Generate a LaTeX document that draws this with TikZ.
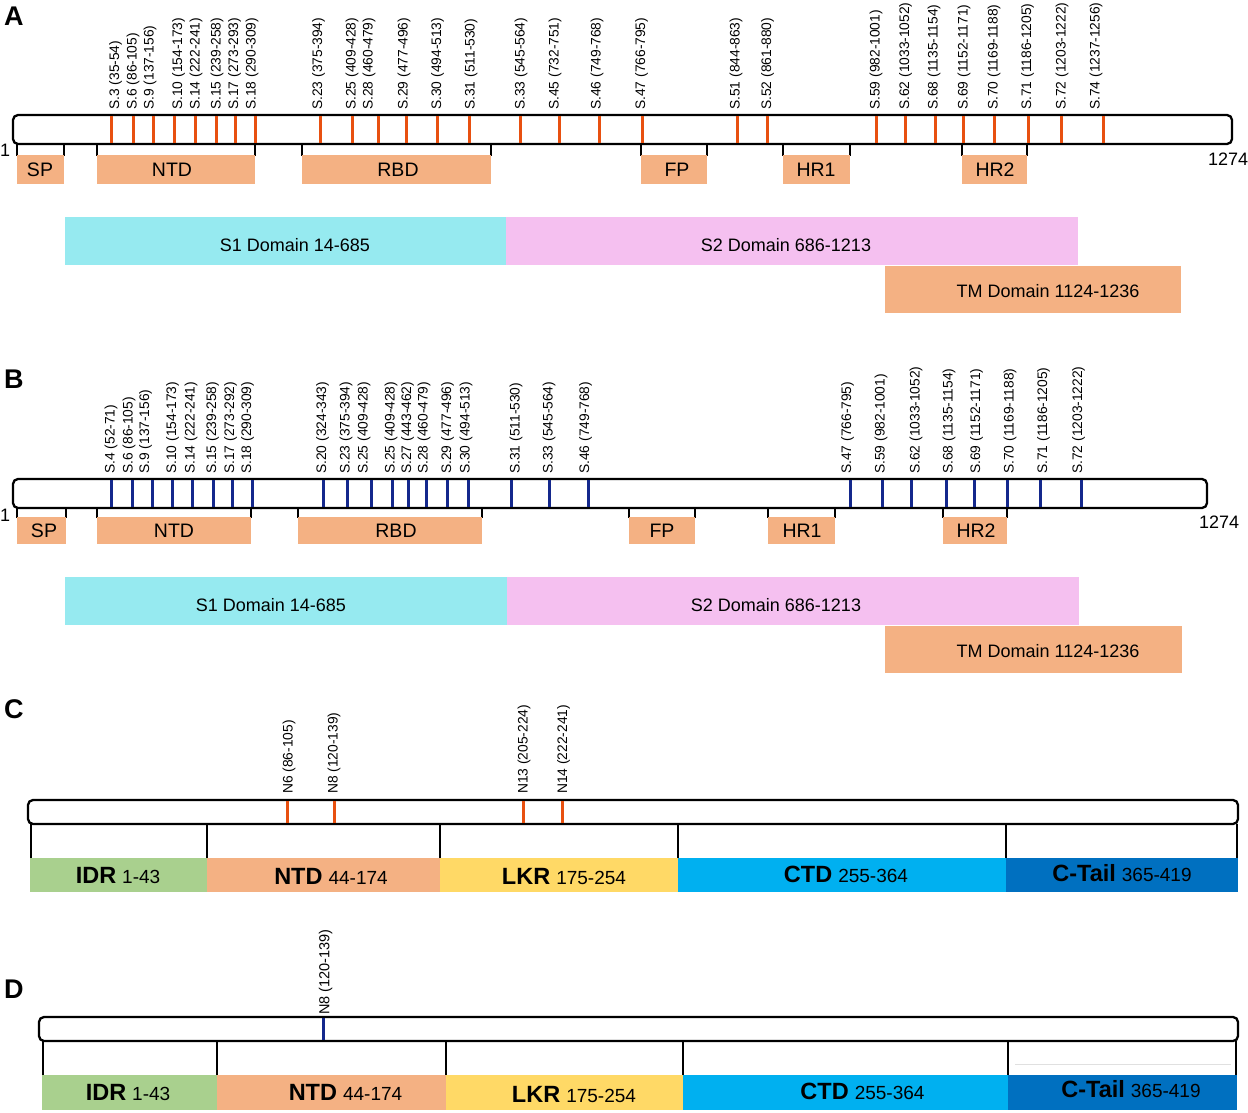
\documentclass[tikz,border=0pt]{standalone}
\usepackage{fontspec}
\setmainfont{Liberation Sans}
\definecolor{peach}{RGB}{244,177,131}
\definecolor{sone}{RGB}{150,234,240}
\definecolor{stwo}{RGB}{245,192,240}
\definecolor{tickor}{RGB}{232,80,16}
\definecolor{tickbl}{RGB}{20,40,140}
\definecolor{idrc}{RGB}{169,208,142}
\definecolor{lkrc}{RGB}{255,217,102}
\definecolor{ctdc}{RGB}{0,176,240}
\definecolor{ctailc}{RGB}{0,112,192}
\newcommand\domb[1]{{\bfseries\fontsize{23.5}{23.5}\selectfont #1}}
\newcommand\domn[1]{{\fontsize{19}{19}\selectfont #1}}
\tikzset{
  bar/.style={draw=black, line width=2.3pt, rounded corners=5pt, fill=white},
  orangetick/.style={draw=tickor, line width=3pt},
  bluetick/.style={draw=tickbl, line width=3pt},
  domtick/.style={draw=black, line width=2.3pt},
  sitelbl/.style={rotate=90, anchor=west, inner sep=0pt, font=\fontsize{13.8}{13.8}\selectfont},
  boxtxt/.style={anchor=base, inner sep=0pt, font=\fontsize{19.5}{19.5}\selectfont},
  bigtxt/.style={anchor=base, inner sep=0pt, font=\fontsize{18}{18}\selectfont},
  endtxt/.style={anchor=base west, inner sep=0pt, font=\fontsize{18}{18}\selectfont},
  cdtxt/.style={anchor=base, inner sep=0pt},
  panel/.style={anchor=base west, inner sep=0pt, font=\bfseries\fontsize{27}{27}\selectfont},
}
\begin{document}
\begin{tikzpicture}[x=1pt,y=-1pt]
\useasboundingbox (0,0) rectangle (1248,1113);

% ================= Panel A =================
\node[panel] (pA) at (4,26) {A};
\draw[bar] (13,115) rectangle (1232,144);
\foreach \tx/\lx/\t [count=\i] in {111/115.5/S.3 (35-54), 133/133/S.6 (86-105), 153/150/S.9 (137-156),
  174/178.5/S.10 (154-173), 195/196/S.14 (222-241), 216/217/S.15 (239-258), 235/234.5/S.17 (273-293),
  255/252/S.18 (290-309), 320/318.5/S.23 (375-394), 352/352/S.25 (409-428), 378/369/S.28 (460-479),
  406/404/S.29 (477-496), 437/437.5/S.30 (494-513), 469/471/S.31 (511-530), 520/521/S.33 (545-564),
  559/555/S.45 (732-751), 599/597/S.46 (749-768), 642/641.5/S.47 (766-795), 737/736/S.51 (844-863),
  767/767.5/S.52 (861-880), 876/876/S.59 (982-1001), 905/905.5/S.62 (1033-1052), 935/934/S.68 (1135-1154),
  963/964/S.69 (1152-1171), 994/994/S.70 (1169-1188), 1028/1027.5/S.71 (1186-1205),
  1061/1062/S.72 (1203-1222), 1103/1096/S.74 (1237-1256)} {
  \draw[orangetick] (\tx,116) -- (\tx,143);
  \node[sitelbl] (la\i) at (\lx,110) {\t};
}
\foreach \a/\b/\cx/\t in {17/64/40/SP, 97/255/172/NTD, 302/491/398/RBD, 641/707/677/FP, 783/850/816/HR1, 962/1027/995/HR2} {
  \draw[domtick] (\a,144) -- (\a,156);
  \draw[domtick] (\b,144) -- (\b,156);
  \fill[peach] (\a,155) rectangle (\b,184);
  \node[boxtxt] (dA\t) at (\cx,176.5) {\t};
}
\node[endtxt] (oneA) at (0,157) {1};
\node[endtxt] (endA) at (1208,165) {1274};
\fill[sone] (65,217) rectangle (506,265);
\fill[stwo] (506,217) rectangle (1078,265);
\fill[peach] (885,266) rectangle (1181,313);
\node[bigtxt] (s1A) at (295,251.5) {S1 Domain 14-685};
\node[bigtxt] (s2A) at (786,251.5) {S2 Domain 686-1213};
\node[bigtxt] (tmA) at (1048,297.5) {TM Domain 1124-1236};

% ================= Panel B =================
\node[panel] (pB) at (4,388) {B};
\draw[bar] (13,479) rectangle (1207,508);
\foreach \tx/\lx/\t [count=\i] in {111/111/S.4 (52-71), 132/129/S.6 (86-105), 152/145.5/S.9 (137-156),
  172/172.5/S.10 (154-173), 192/191/S.14 (222-241), 213/212.5/S.15 (239-258), 232/230.5/S.17 (273-292),
  252/247.5/S.18 (290-309), 323/322.5/S.20 (324-343), 347/346/S.23 (375-394), 371/364/S.25 (409-428),
  392/391/S.25 (409-428), 408/407.5/S.27 (443-462), 426/424/S.28 (460-479), 447/447.5/S.29 (477-496),
  468/466/S.30 (494-513), 511/516/S.31 (511-530), 549/549/S.33 (545-564), 588/585.5/S.46 (749-768),
  850/847.5/S.47 (766-795), 882/881/S.59 (982-1001), 911/916/S.62 (1033-1052), 946/949/S.68 (1135-1154),
  974/976.5/S.69 (1152-1171), 1007/1010/S.70 (1169-1188), 1040/1043.5/S.71 (1186-1205),
  1081/1078.5/S.72 (1203-1222)} {
  \draw[bluetick] (\tx,480) -- (\tx,507);
  \node[sitelbl] (lb\i) at (\lx,474) {\t};
}
\foreach \a/\b/\cx/\t in {17/66/44/SP, 97/251/174/NTD, 298/482/396/RBD, 629/695/662/FP, 768/835/802/HR1, 943/1007/976/HR2} {
  \draw[domtick] (\a,508) -- (\a,518);
  \draw[domtick] (\b,508) -- (\b,518);
  \fill[peach] (\a,517) rectangle (\b,544);
  \node[boxtxt] (dB\t) at (\cx,537) {\t};
}
\node[endtxt] (oneB) at (0,521) {1};
\node[endtxt] (endB) at (1199,528) {1274};
\fill[sone] (65,577) rectangle (507,625);
\fill[stwo] (507,577) rectangle (1079,625);
\fill[peach] (885,626) rectangle (1182,673);
\node[bigtxt] (s1B) at (271,611.5) {S1 Domain 14-685};
\node[bigtxt] (s2B) at (776,611.5) {S2 Domain 686-1213};
\node[bigtxt] (tmB) at (1048,657.5) {TM Domain 1124-1236};

% ================= Panel C =================
\node[panel] (pC) at (4,718) {C};
\draw[bar] (28,800) rectangle (1238,824);
\foreach \tx/\lx/\t [count=\i] in {287/289/N6 (86-105), 334/334/N8 (120-139), 523/524/N13 (205-224), 562/563.5/N14 (222-241)} {
  \draw[orangetick] (\tx,801) -- (\tx,823);
  \node[sitelbl] (lc\i) at (\lx,794) {\t};
}
\foreach \x in {31,207,440,678,1006,1237} {
  \draw[domtick, line width=2.6pt] (\x,824) -- (\x,859);
}
\fill[idrc] (30,858) rectangle (207,892);
\fill[peach] (207,858) rectangle (440,892);
\fill[lkrc] (440,858) rectangle (678,892);
\fill[ctdc] (678,858) rectangle (1006,892);
\fill[ctailc] (1006,858) rectangle (1238,892);
\node[cdtxt] (cIDR) at (118,883) {\domb{IDR}\hspace{6pt}\domn{1-43}};
\node[cdtxt] (cNTD) at (331,884) {\domb{NTD}\hspace{6pt}\domn{44-174}};
\node[cdtxt] (cLKR) at (564,884) {\domb{LKR}\hspace{6pt}\domn{175-254}};
\node[cdtxt] (cCTD) at (846,882) {\domb{CTD}\hspace{6pt}\domn{255-364}};
\node[cdtxt] (cCT) at (1122,881) {\domb{C-Tail}\hspace{6pt}\domn{365-419}};

% ================= Panel D =================
\node[panel] (pD) at (4,998) {D};
\draw[bar] (39,1017) rectangle (1238,1041);
\draw[bluetick] (323,1018) -- (323,1040);
\node[sitelbl, font=\fontsize{14.5}{14.5}\selectfont] (ld1) at (325.5,1015) {N8 (120-139)};
\foreach \x in {43,217,446,683,1008,1236} {
  \draw[domtick, line width=2.6pt] (\x,1041) -- (\x,1076);
}
\draw[black!12, line width=1pt] (1015,1064) -- (1231,1064);
\fill[idrc] (42,1075) rectangle (217,1110);
\fill[peach] (217,1075) rectangle (446,1110);
\fill[lkrc] (446,1075) rectangle (683,1110);
\fill[ctdc] (683,1075) rectangle (1008,1110);
\fill[ctailc] (1008,1075) rectangle (1237,1110);
\node[cdtxt] (dIDR) at (128,1100) {\domb{IDR}\hspace{6pt}\domn{1-43}};
\node[cdtxt] (dNTD) at (345.5,1100) {\domb{NTD}\hspace{6pt}\domn{44-174}};
\node[cdtxt] (dLKR) at (574,1102) {\domb{LKR}\hspace{6pt}\domn{175-254}};
\node[cdtxt] (dCTD) at (862.5,1099) {\domb{CTD}\hspace{6pt}\domn{255-364}};
\node[cdtxt] (dCT) at (1131,1097) {\domb{C-Tail}\hspace{6pt}\domn{365-419}};
\end{tikzpicture}
\end{document}
